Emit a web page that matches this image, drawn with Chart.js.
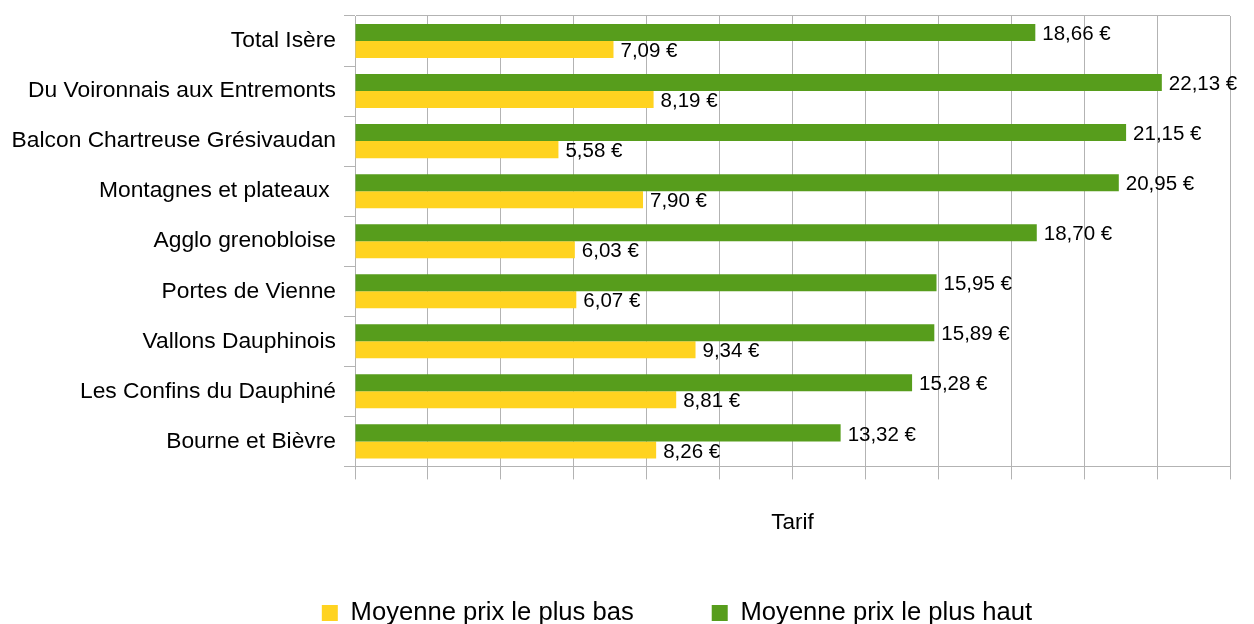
<!DOCTYPE html>
<html>
<head>
<meta charset="utf-8">
<script src="https://cdn.jsdelivr.net/npm/chart.js@4.4.1/dist/chart.umd.min.js"></script>
<style>
  html, body { margin: 0; padding: 0; background: #fff; }
</style>
</head>
<body>
<canvas id="chart" width="1254" height="624"></canvas>
<script>
const categories = [
    'Total Isère',
    'Du Voironnais aux Entremonts',
    'Balcon Chartreuse Grésivaudan',
    'Montagnes et plateaux ',
    'Agglo grenobloise',
    'Portes de Vienne',
    'Vallons Dauphinois',
    'Les Confins du Dauphiné',
    'Bourne et Bièvre'
];
const prixHaut = [18.66, 22.13, 21.15, 20.95, 18.70, 15.95, 15.89, 15.28, 13.32];
const prixBas = [7.09, 8.19, 5.58, 7.90, 6.03, 6.07, 9.34, 8.81, 8.26];
const xMax = 24;
const xStep = 2;

const GRID = '#b3b3b3';
const FONT = '"Liberation Sans", Arial, sans-serif';

Chart.defaults.font.family = FONT;
Chart.defaults.color = '#000';

const euro = v => v.toFixed(2).replace('.', ',') + ' €';

// value labels at the end of each bar
const valueLabels = {
    id: 'valueLabels',
    afterDatasetsDraw(chart) {
        const ctx = chart.ctx;
        ctx.save();
        ctx.font = '20.5px ' + FONT;
        ctx.fillStyle = '#000';
        ctx.textAlign = 'left';
        ctx.textBaseline = 'middle';
        chart.data.datasets.forEach((ds, i) => {
            chart.getDatasetMeta(i).data.forEach((bar, j) => {
                ctx.fillText(euro(ds.data[j]), bar.x + 7, bar.y + 2);
            });
        });
        ctx.restore();
    }
};

// the legend sits a bit right of centre in the original
const legendShift = {
    id: 'legendShift',
    afterLayout(chart) {
        chart.legend.left += 62;
        chart.legend.right += 62;
    }
};

const ctx = document.getElementById('chart').getContext('2d');
new Chart(ctx, {
    type: 'bar',
    data: {
        labels: categories,
        datasets: [{
            label: 'Moyenne prix le plus haut',
            data: prixHaut,
            backgroundColor: '#579d1c',
            borderColor: '#579d1c',
            borderWidth: 0
        }, {
            label: 'Moyenne prix le plus bas',
            data: prixBas,
            backgroundColor: '#ffd320',
            borderColor: '#ffd320',
            borderWidth: 0
        }]
    },
    options: {
        indexAxis: 'y',
        responsive: false,
        animation: false,
        categoryPercentage: 0.68,
        barPercentage: 1.0,
        layout: {
            padding: {top: 16, right: 24, bottom: -11.8, left: 0}
        },
        scales: {
            x: {
                min: 0,
                max: xMax,
                ticks: {display: false, stepSize: xStep},
                grid: {color: GRID, lineWidth: 1, tickLength: 13, drawTicks: true},
                border: {color: GRID},
                title: {
                    display: true,
                    text: 'Tarif',
                    font: {size: 22.5},
                    padding: {top: 29.8, bottom: -14}
                }
            },
            y: {
                ticks: {font: {size: 22.8}, padding: 8},
                grid: {
                    color: c => c.index === 0 ? GRID : 'rgba(0,0,0,0)',
                    tickColor: GRID,
                    tickLength: 11
                },
                border: {color: GRID},
                afterFit(scale) {
                    scale.width = 355;
                    scale.paddingTop = 0;
                    scale.paddingBottom = 0;
                }
            }
        },
        plugins: {
            legend: {
                position: 'bottom',
                reverse: true,
                labels: {
                    boxWidth: 16,
                    boxHeight: 16,
                    padding: 78,
                    font: {size: 25.6}
                }
            },
            tooltip: {enabled: false}
        }
    },
    plugins: [valueLabels, legendShift]
});
</script>
</body>
</html>
